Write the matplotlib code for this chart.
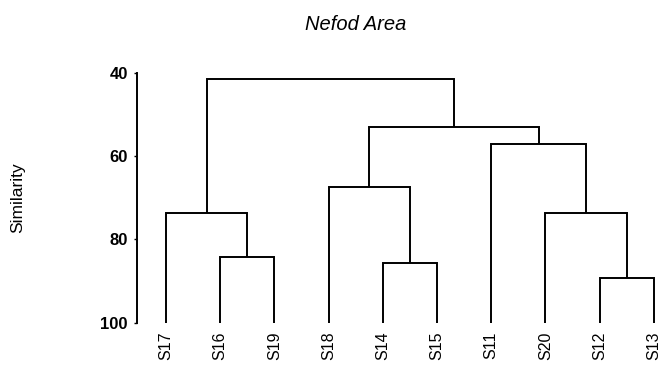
import matplotlib
matplotlib.use('Agg')
import matplotlib.pyplot as plt

plt.rcParams['font.family'] = ['Liberation Sans', 'DejaVu Sans']

#
# data
#
leaf_labels = ['S17', 'S16', 'S19', 'S18', 'S14', 'S15', 'S11', 'S20', 'S12', 'S13']
leaf_level = 100

# each merge: (left cluster, right cluster, similarity); new clusters numbered from 10 on
merge_left = ['S16', 'S14', 'S12', 'S17', 'S18', 'S20', 'S11', 14, 13]
merge_right = ['S19', 'S15', 'S13', 10, 11, 12, 15, 16, 17]
merge_height = [84.3, 85.8, 89.4, 73.8, 67.4, 73.6, 57.1, 53.0, 41.6]

yticks = [40, 60, 80, 100]

#
# work out the x position and height of every cluster
#
pos = {}
height = {}
for i, lab in enumerate(leaf_labels):
    pos[lab] = i
    height[lab] = leaf_level

fig = plt.figure(figsize=(6.63, 3.66), dpi=100)
ax = fig.add_axes([137 / 663, 1 - 322.6 / 366, 526 / 663, 250 / 366])

for k in range(len(merge_height)):
    a = merge_left[k]
    b = merge_right[k]
    h = merge_height[k]
    xa, xb = pos[a], pos[b]
    ax.plot([xa, xa, xb, xb], [height[a], h, h, height[b]], color='black', lw=1.4,
            solid_joinstyle='miter', solid_capstyle='butt')
    new_id = 10 + k
    pos[new_id] = (xa + xb) / 2.0
    height[new_id] = h

ax.set_xlim(-0.535, 9.17)
ax.set_ylim(100, 40)
ax.set_yticks(yticks)
ax.set_yticklabels([str(t) for t in yticks], fontsize=12, fontweight='bold')
ax.set_xticks(range(len(leaf_labels)))
ax.set_xticklabels(leaf_labels, rotation=90, fontsize=11.5)
ax.tick_params(axis='x', length=0, pad=6.5)
ax.tick_params(axis='y', length=2.5, width=1, pad=4)

for s in ['top', 'right', 'bottom']:
    ax.spines[s].set_visible(False)
ax.spines['left'].set_linewidth(1.4)

ax.set_ylabel('Similarity', fontsize=12.5)
ax.yaxis.set_label_coords(-0.213, 0.5)

fig.text(356 / 663, 1 - 24 / 366, 'Nefod Area', fontsize=14.5, style='italic',
         ha='center', va='center')

plt.savefig('out.png', dpi=100)
plt.close()
